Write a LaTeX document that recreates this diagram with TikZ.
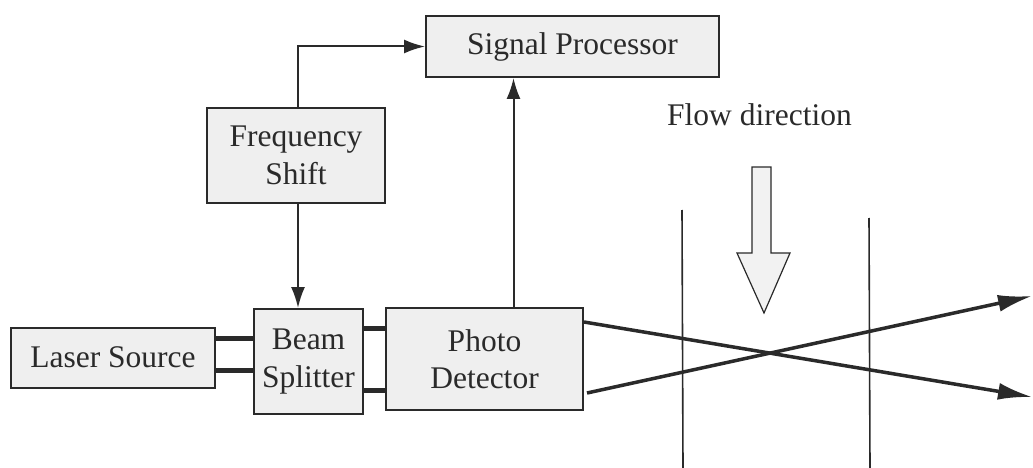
\documentclass[tikz,border=0pt]{standalone}
\usepackage{fontspec}
\setmainfont{Liberation Serif}
\usetikzlibrary{arrows.meta,calc}
\definecolor{ink}{HTML}{2A2A2A}
\definecolor{boxfill}{HTML}{EFEFEF}
\definecolor{arrowfill}{HTML}{F2F2F2}
\tikzset{
  blockbox/.style={draw=ink, fill=boxfill, line width=2pt, inner sep=0pt,
    align=center, font=\fontsize{31.5}{37.5}\selectfont, text=ink},
  link/.style={draw=ink, line width=2pt},
  sig/.style={draw=ink, line width=2pt, -{Latex[length=21pt,width=14pt]}},
  fibre/.style={draw=ink, line width=5pt},
  beam/.style={draw=ink, line width=3.5pt, -{Latex[length=34pt,width=17pt]}},
  wall/.style={draw=ink, line width=1.6pt},
  label/.style={inner sep=0pt, font=\fontsize{31.5}{37.5}\selectfont, text=ink}
}
\begin{document}
\begin{tikzpicture}[x=1pt,y=-1pt]
\useasboundingbox (0,0) rectangle (1033,468);

% blocks
\node[blockbox, minimum width=204pt, minimum height=60pt]  (laser) at (113,357.5) {Laser Source};
\node[blockbox, minimum width=109pt, minimum height=105pt] (bs)    at (308.5,361.5) {Beam\\Splitter};
\node[blockbox, minimum width=197pt, minimum height=102pt] (pd)    at (484.5,359) {Photo\\Detector};
\node[blockbox, minimum width=293pt, minimum height=61pt]  (sp)    at (572.5,46.5) {Signal Processor};
\node[blockbox, minimum width=178pt, minimum height=95pt]  (fs)    at (296,155.5) {Frequency\\Shift};

% optical links between the blocks
\draw[fibre] (laser.east |- 0,338) -- (bs.west |- 0,338);
\draw[fibre] (laser.east |- 0,370) -- (bs.west |- 0,370);
\draw[fibre] (bs.east |- 0,328) -- (pd.west |- 0,328);
\draw[fibre] (bs.east |- 0,390) -- (pd.west |- 0,390);

% signal paths
\coordinate (fstop) at ([xshift=2pt]fs.north);
\draw[sig] (fstop) |- (sp.west);
\draw[sig] ([xshift=2pt]fs.south) -- ([xshift=2pt]fs.south |- bs.north);
\coordinate (pdout) at ([xshift=29pt]pd.north);
\draw[sig] (pdout) -- (pdout |- sp.south);

% channel walls
\coordinate (wl1) at (682,210);
\coordinate (wl2) at (683,468);
\coordinate (wr1) at (869,218);
\coordinate (wr2) at (870,468);
\draw[wall] (wl1) -- (wl2);
\draw[wall] (wr1) -- (wr2);

% crossing laser beams
\coordinate (b1s) at (584,322);
\coordinate (b1e) at (1032,397);
\coordinate (b2s) at (587,393);
\coordinate (b2e) at (1032,296);
\draw[beam] (b1s) -- (b1e);
\draw[beam] (b2s) -- (b2e);

% flow direction
\node[label, anchor=base] (flow) at (759.5,126) {Flow direction};
\draw[draw=ink, fill=arrowfill, line width=1.2pt, line join=miter]
  (752,167) -- (771,167) -- (771,253) -- (790,253) -- (764,313)
  -- (737,253) -- (752,253) -- cycle;
\end{tikzpicture}
\end{document}
